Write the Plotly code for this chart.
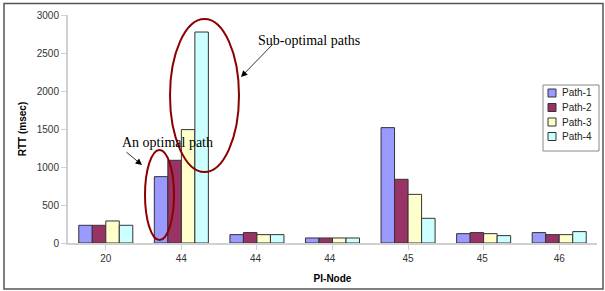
import plotly.graph_objects as go

categories = ["20", "44", "44 ", "44  ", "45", "45 ", "46"]
path1 = [233, 873, 110, 66, 1518, 123, 137]
path2 = [233, 1088, 137, 66, 838, 137, 110]
path3 = [290, 1492, 110, 66, 640, 123, 110]
path4 = [233, 2776, 110, 66, 325, 97, 150]
series_names = ["Path-1", "Path-2", "Path-3", "Path-4"]
colors = ["#9999FF", "#993366", "#FFFFCC", "#CCFFFF"]

fig = go.Figure()
for name, vals, col in zip(series_names, [path1, path2, path3, path4], colors):
    fig.add_trace(go.Bar(x=categories, y=vals, name=name, showlegend=False,
                         marker=dict(color=col, line=dict(color="#333333", width=1))))

L, R, T, B = 68, 8, 15, 48
W, H = 605, 291
pw, ph = W - L - R, H - T - B

def px(x):
    return (x - L) / pw

def py(y):
    return (H - B - y) / ph

shapes = [
    dict(type="rect", xref="paper", yref="paper", x0=px(4), x1=px(603), y0=py(289), y1=py(3.5),
         line=dict(color="#555555", width=1.5), fillcolor="rgba(0,0,0,0)", layer="below"),
    dict(type="circle", xref="paper", yref="paper", x0=px(145), x1=px(174), y0=py(240), y1=py(150),
         line=dict(color="#8B0000", width=2)),
    dict(type="circle", xref="paper", yref="paper", x0=px(170), x1=px(239), y0=py(172), y1=py(19),
         line=dict(color="#8B0000", width=2)),
    # legend box
    dict(type="rect", xref="paper", yref="paper", x0=px(543), x1=px(599), y0=py(151), y1=py(85),
         line=dict(color="#888888", width=1), fillcolor="white"),
]

serif = dict(family="Liberation Serif, Times New Roman, serif", size=14, color="#000000")
annotations = [
    dict(text="Sub-optimal paths", xref="paper", yref="paper", x=px(308.5), y=py(31.5),
         showarrow=False, font=serif),
    dict(text="", xref="paper", yref="paper", x=px(241), y=py(77), ax=274 - 241, ay=43 - 77,
         showarrow=True, arrowhead=2, arrowsize=1.6, arrowwidth=0.8, arrowcolor="#000000"),
    dict(text="An optimal path", xref="paper", yref="paper", x=px(120), y=py(142.5),
         showarrow=False, font=serif),
    dict(text="", xref="paper", yref="paper", x=px(142), y=py(165), ax=125 - 142, ay=151 - 165,
         showarrow=True, arrowhead=2, arrowsize=1.6, arrowwidth=0.8, arrowcolor="#000000"),
]

# custom compact legend
row_y = [93, 107.5, 122, 136.5]
for name, col, ry in zip(series_names, colors, row_y):
    shapes.append(dict(type="rect", xref="paper", yref="paper", x0=px(548), x1=px(556),
                       y0=py(ry + 4), y1=py(ry - 4), fillcolor=col,
                       line=dict(color="#333333", width=1)))
    annotations.append(dict(text=name, xref="paper", yref="paper", x=px(559.5), y=py(ry),
                            xanchor="left", yanchor="middle", showarrow=False,
                            font=dict(size=10, color="#222222")))

fig.update_layout(
    width=W, height=H,
    margin=dict(l=L, r=R, t=T, b=B, autoexpand=False),
    paper_bgcolor="white", plot_bgcolor="white",
    barmode="group", bargap=0.285, bargroupgap=0,
    font=dict(family="Liberation Sans, Arial, sans-serif", size=10, color="#333333"),
    showlegend=False,
    shapes=shapes,
    annotations=annotations,
)
fig.update_xaxes(
    showline=True, linecolor="#d0d0d0", linewidth=2,
    ticks="outside", ticklen=5, tickcolor="#d0d0d0",
    showgrid=False, zeroline=False,
    title=dict(text="<b>PI-Node</b>", font=dict(size=10, color="#000000"), standoff=12),
    tickfont=dict(size=10, color="#333333"),
)
fig.update_yaxes(
    range=[0, 3000], tickvals=[0, 500, 1000, 1500, 2000, 2500, 3000],
    showline=True, linecolor="#d0d0d0", linewidth=2,
    ticks="outside", ticklen=5, tickcolor="#d0d0d0",
    showgrid=False, zeroline=False,
    title=dict(text="<b>RTT (msec)</b>", font=dict(size=10, color="#000000"), standoff=8),
    tickfont=dict(size=10, color="#333333"),
)

fig.write_html("out.html", config={"displayModeBar": False},
               post_script="document.body.style.margin='0';")
